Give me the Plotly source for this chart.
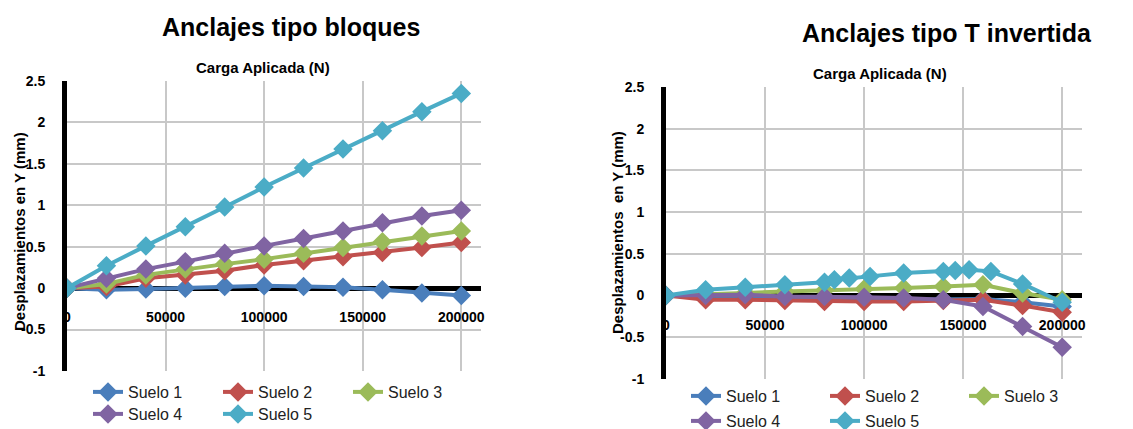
import plotly.graph_objects as go

# ---------------- data ----------------
series_names = ["Suelo 1", "Suelo 2", "Suelo 3", "Suelo 4", "Suelo 5"]
colors = ["#4A7EBB", "#C0504D", "#9BBB59", "#8064A2", "#4BACC6"]

# Anclajes tipo bloques
carga_bloques = [0, 20000, 40000, 60000, 80000, 100000, 120000, 140000, 160000, 180000, 200000]
bloques_s1 = [0, -0.02, -0.01, 0.0, 0.02, 0.03, 0.02, 0.01, -0.02, -0.06, -0.09]
bloques_s2 = [0, 0.02, 0.12, 0.16, 0.21, 0.28, 0.33, 0.38, 0.43, 0.49, 0.55]
bloques_s3 = [0, 0.05, 0.16, 0.23, 0.29, 0.35, 0.42, 0.49, 0.56, 0.63, 0.69]
bloques_s4 = [0, 0.12, 0.23, 0.32, 0.42, 0.51, 0.60, 0.69, 0.79, 0.87, 0.94]
bloques_s5 = [0, 0.27, 0.51, 0.74, 0.98, 1.22, 1.45, 1.68, 1.90, 2.13, 2.35]

# Anclajes tipo T invertida
carga_t = [0, 20000, 40000, 60000, 80000, 100000, 120000, 140000, 160000, 180000, 200000]
t_s1 = [0, -0.02, -0.03, -0.04, -0.05, -0.05, -0.05, -0.05, -0.04, -0.08, -0.13]
t_s2 = [0, -0.05, -0.05, -0.06, -0.07, -0.07, -0.07, -0.06, -0.05, -0.12, -0.20]
t_s3 = [0, 0.01, 0.03, 0.05, 0.06, 0.08, 0.09, 0.11, 0.13, 0.03, -0.05]
t_s4 = [0, 0.0, 0.01, -0.01, -0.01, -0.02, -0.03, -0.05, -0.13, -0.37, -0.62]
carga_t_s5 = [0, 20000, 40000, 60000, 80000, 85000, 92500, 103000, 120000, 140000,
              146000, 153000, 164000, 180000, 200000]
t_s5 = [0, 0.07, 0.10, 0.13, 0.16, 0.19, 0.21, 0.23, 0.27, 0.29, 0.30, 0.31, 0.29, 0.14, -0.08]

x_ticks = [0, 50000, 100000, 150000, 200000]
y_ticks = [-1, -0.5, 0, 0.5, 1, 1.5, 2, 2.5]

# ---------------- layout geometry ----------------
W, H = 1133, 429
Y_RANGE = [-1, 2.5]
X_RANGE = [0, 210000]
left_dom_x = [67 / W, 481 / W]
left_dom_y = [1 - 371 / H, 1 - 81 / H]
right_dom_x = [666 / W, 1082 / W]
right_dom_y = [1 - 379 / H, 1 - 87 / H]


def zero_pos(dom):
    return dom[0] + (0 - Y_RANGE[0]) / (Y_RANGE[1] - Y_RANGE[0]) * (dom[1] - dom[0])


FONT = "Liberation Sans, Arial, sans-serif"

fig = go.Figure()

left_data = [(carga_bloques, bloques_s1), (carga_bloques, bloques_s2), (carga_bloques, bloques_s3),
             (carga_bloques, bloques_s4), (carga_bloques, bloques_s5)]
right_data = [(carga_t, t_s1), (carga_t, t_s2), (carga_t, t_s3), (carga_t, t_s4), (carga_t_s5, t_s5)]

for i, (xs, ys) in enumerate(left_data):
    fig.add_trace(go.Scatter(
        x=xs, y=ys, name=series_names[i], mode="lines+markers",
        line=dict(color=colors[i], width=4),
        marker=dict(symbol="diamond", size=15, color=colors[i]),
        xaxis="x", yaxis="y", legend="legend" if i < 3 else "legend2",
    ))

for i, (xs, ys) in enumerate(right_data):
    fig.add_trace(go.Scatter(
        x=xs, y=ys, name=series_names[i], mode="lines+markers",
        line=dict(color=colors[i], width=4),
        marker=dict(symbol="diamond", size=15, color=colors[i]),
        xaxis="x2", yaxis="y2", legend="legend3" if i < 3 else "legend4",
    ))

tickfont = dict(family=FONT, size=14, color="black", weight="bold")

xaxis_common = dict(
    range=X_RANGE, tickvals=x_ticks, ticktext=[str(v) for v in x_ticks],
    showgrid=True, gridcolor="#C8C8C8", gridwidth=1.5, zeroline=False,
    showline=False, ticks="", tickfont=tickfont, ticklabelstandoff=19,
    anchor="free",
)
yaxis_common = dict(
    range=Y_RANGE, tickvals=y_ticks, ticktext=[f"{v:g}" for v in y_ticks],
    showgrid=True, gridcolor="#C8C8C8", gridwidth=1.5,
    zeroline=True, zerolinecolor="black", zerolinewidth=5,
    showline=True, linecolor="black", linewidth=5,
    ticks="", tickfont=tickfont, ticklabelstandoff=14,
)

legend_common = dict(
    orientation="h", xanchor="left", yanchor="middle", bgcolor="rgba(0,0,0,0)",
    font=dict(family=FONT, size=16, color="#222222"), entrywidth=85,
    itemsizing="trace", tracegroupgap=0,
)

fig.update_layout(
    width=W, height=H,
    margin=dict(l=0, r=0, t=0, b=0, autoexpand=False),
    paper_bgcolor="white", plot_bgcolor="white",
    xaxis=dict(domain=left_dom_x, position=zero_pos(left_dom_y), **xaxis_common),
    yaxis=dict(domain=left_dom_y, anchor="x", **yaxis_common),
    xaxis2=dict(domain=right_dom_x, position=zero_pos(right_dom_y), **xaxis_common),
    yaxis2=dict(domain=right_dom_y, anchor="x2", **yaxis_common),
    legend=dict(x=88 / W, y=1 - 392 / H, **legend_common),
    legend2=dict(x=88 / W, y=1 - 414 / H, **legend_common),
    legend3=dict(x=686 / W, y=1 - 396 / H, **{**legend_common, "entrywidth": 94}),
    legend4=dict(x=686 / W, y=1 - 421 / H, **{**legend_common, "entrywidth": 94}),
    showlegend=True,
)

annotations = [
    dict(text="Anclajes tipo bloques", x=291 / W, y=1 - 27 / H,
         font=dict(family=FONT, size=25, color="black", weight="bold")),
    dict(text="Anclajes tipo T invertida", x=947 / W, y=1 - 33 / H,
         font=dict(family=FONT, size=25, color="black", weight="bold")),
    dict(text="Carga Aplicada (N)", x=263 / W, y=1 - 67 / H,
         font=dict(family=FONT, size=15, color="black", weight="bold")),
    dict(text="Carga Aplicada (N)", x=880 / W, y=1 - 74 / H,
         font=dict(family=FONT, size=15, color="black", weight="bold")),
    dict(text="Desplazamientos en Y (mm)", x=19 / W, y=1 - 232 / H, textangle=-90,
         font=dict(family=FONT, size=15, color="black", weight="bold")),
    dict(text="Desplazamientos  en Y (mm)", x=617 / W, y=1 - 233 / H, textangle=-90,
         font=dict(family=FONT, size=15, color="black", weight="bold")),
]
for a in annotations:
    fig.add_annotation(xref="paper", yref="paper", showarrow=False,
                       xanchor="center", yanchor="middle", **a)

fig.write_html("out.html")
